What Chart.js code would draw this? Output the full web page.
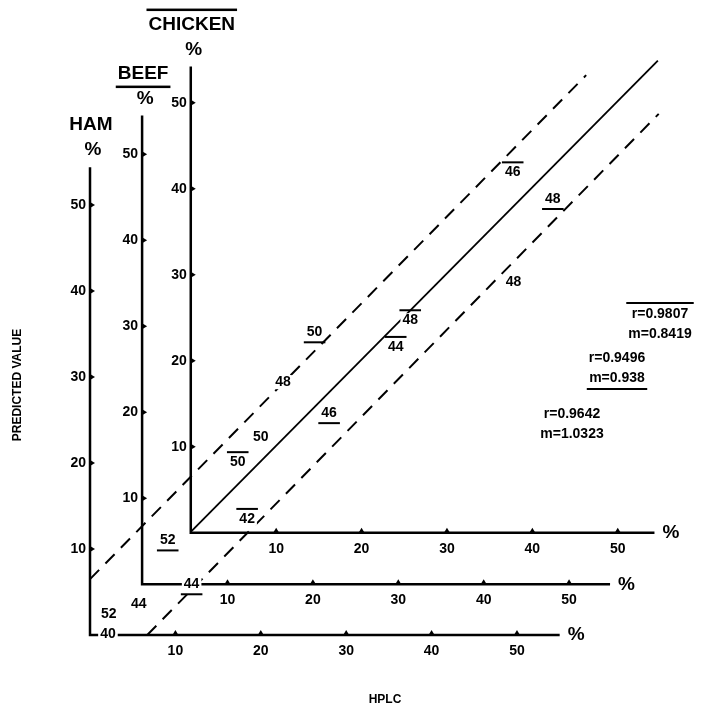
<!DOCTYPE html>
<html><head><meta charset="utf-8">
<script src="https://cdn.jsdelivr.net/npm/chart.js@4"></script>
<style>html,body{margin:0;padding:0;background:#fff;}</style>
</head><body>
<canvas id="c" width="701" height="707"></canvas>
<script>
// Series names and offsets of each oblique frame (in HAM units)
const seriesNames = ['HAM', 'BEEF', 'CHICKEN'];
const frameOffsetX = [0, 6.1, 11.8];
const frameOffsetY = [0, 5.9, 11.9];
const axisLenX = [55, 54.8, 54.3];
const axisLenY = [54.4, 54.5, 54.2];
const tickValues = [10, 20, 30, 40, 50];

// Point labels (sample numbers), positions in HAM frame units
const hamLabels = ['40', '52', '44', '50', '48', '48'];
const hamX = [2.1, 2.2, 5.7, 20.0, 22.6, 49.6];
const hamY = [0.1, 2.4, 3.6, 23.0, 29.4, 41.0];
const beefLabels = ['52', '44', '50', '46', '48'];
const beefX = [9.1, 11.9, 26.3, 28.0, 54.2];
const beefY = [11.0, 5.9, 35.2, 25.8, 50.7];
const chickenLabels = ['42', '50', '44', '48', '46'];
const chickenX = [18.4, 17.3, 35.8, 37.5, 49.5];
const chickenY = [13.5, 20.1, 33.5, 36.6, 53.8];

// Regression lines (HAM frame units)
const solidLineX = [11.8, 66.5];
const solidLineY = [12.0, 66.8];
const upperDashX = [0, 58.1];
const upperDashY = [6.5, 65.1];
const lowerDashX = [6.7, 66.6];
const lowerDashY = [0, 60.6];

const statsText = [['r=0.9642', 'm=1.0323'], ['r=0.9496', 'm=0.938'], ['r=0.9807', 'm=0.8419']];

const FONT = 'bold 14px "Liberation Sans", Arial, sans-serif';

function pts(xs, ys) { return xs.map((x, i) => ({x, y: ys[i]})); }

const datasets = [];
for (let s = 0; s < 3; s++) {
  const ox = frameOffsetX[s], oy = frameOffsetY[s];
  datasets.push({
    type: 'line', label: seriesNames[s] + ' axes',
    data: [{x: ox, y: oy + axisLenY[s]}, {x: ox, y: oy}, {x: ox + axisLenX[s], y: oy}],
    borderColor: '#000', borderWidth: 2.5, pointRadius: 0, tension: 0
  });
}
datasets.push({type: 'line', label: 'solid', data: pts(solidLineX, solidLineY), borderColor: '#000', borderWidth: 1.8, pointRadius: 0});
datasets.push({type: 'line', label: 'upper', data: pts(upperDashX, upperDashY), borderColor: '#000', borderWidth: 2, borderDash: [13, 9], pointRadius: 0});
datasets.push({type: 'line', label: 'lower', data: pts(lowerDashX, lowerDashY), borderColor: '#000', borderWidth: 2, borderDash: [13, 9], pointRadius: 0});
const labelSets = [
  {labels: hamLabels, deco: 0},
  {labels: beefLabels, deco: 1},
  {labels: chickenLabels, deco: -1}
];
datasets.push({type: 'scatter', label: 'HAM pts', data: pts(hamX, hamY), pointRadius: 0});
datasets.push({type: 'scatter', label: 'BEEF pts', data: pts(beefX, beefY), pointRadius: 0});
datasets.push({type: 'scatter', label: 'CHICKEN pts', data: pts(chickenX, chickenY), pointRadius: 0});

function decoText(ctx, text, x, y, deco, bg) {
  ctx.textAlign = 'center';
  const tw = ctx.measureText(text).width;
  if (bg) { ctx.fillStyle = '#fff'; ctx.fillRect(x - tw / 2 - 2, y - 7, tw + 4, 14); ctx.fillStyle = '#000'; }
  ctx.fillText(text, x, y);
  if (!deco) return;
  const w = tw + 6;
  const ly = deco < 0 ? y - 10 : y + 10;
  ctx.fillRect(x - w / 2, ly - 1, w, 2);
}

const drawPlugin = {
  id: 'drawPlugin',
  afterDatasetsDraw(chart) {
    const ctx = chart.ctx, xs = chart.scales.x, ys = chart.scales.y;
    ctx.save();
    ctx.fillStyle = '#000';
    ctx.font = FONT;
    ctx.textBaseline = 'middle';
    for (let s = 0; s < 3; s++) {
      const ox = frameOffsetX[s], oy = frameOffsetY[s];
      for (const t of tickValues) {
        const px = xs.getPixelForValue(ox + t), py = ys.getPixelForValue(oy);
        ctx.beginPath(); ctx.moveTo(px - 3, py); ctx.lineTo(px, py - 5); ctx.lineTo(px + 3, py); ctx.fill();
        ctx.textAlign = 'center'; ctx.fillText(String(t), px, py + 16);
        const qx = xs.getPixelForValue(ox), qy = ys.getPixelForValue(oy + t);
        ctx.beginPath(); ctx.moveTo(qx, qy - 3); ctx.lineTo(qx + 5, qy); ctx.lineTo(qx, qy + 3); ctx.fill();
        ctx.textAlign = 'right'; ctx.fillText(String(t), qx - 4, qy);
      }
      const ex = xs.getPixelForValue(ox + axisLenX[s]), ey = ys.getPixelForValue(oy);
      ctx.font = 'bold 19px "Liberation Sans", Arial, sans-serif';
      ctx.textAlign = 'left'; ctx.fillText('%', ex + 8, ey);
      const tx = xs.getPixelForValue(ox), ty = ys.getPixelForValue(oy + axisLenY[s]);
      ctx.textAlign = 'center';
      ctx.fillText('%', tx + 3, ty - 17);
      ctx.font = 'bold 19px "Liberation Sans", Arial, sans-serif';
      const title = seriesNames[s];
      ctx.fillText(title, tx + (s === 0 ? 1 : 1), ty - 42);
      const w = ctx.measureText(title).width + 4;
      if (s === 1) ctx.fillRect(tx + 1 - w / 2, ty - 42 + 12, w, 2.5);
      if (s === 2) ctx.fillRect(tx + 1 - w / 2, ty - 42 - 16, w, 2.5);
      ctx.font = FONT;
    }
    for (let s = 0; s < 3; s++) {
      const meta = chart.getDatasetMeta(datasets.length - 3 + s);
      meta.data.forEach((el, i) => decoText(ctx, labelSets[s].labels[i], el.x, el.y, labelSets[s].deco, true));
    }
    const statPos = [[572, 414, 0], [617, 358, 1], [660, 314, -1]];
    for (let s = 0; s < 3; s++) {
      const [x, y, d] = statPos[s];
      ctx.textAlign = 'center';
      ctx.fillText(statsText[s][0], x, y);
      ctx.fillText(statsText[s][1], x, y + 20);
      const w = Math.max(ctx.measureText(statsText[s][0]).width, ctx.measureText(statsText[s][1]).width) + 4;
      if (d < 0) ctx.fillRect(x - w / 2, y - 12, w, 2);
      if (d > 0) ctx.fillRect(x - w / 2, y + 30, w, 2);
    }
    ctx.font = 'bold 12px "Liberation Sans", Arial, sans-serif';
    ctx.textAlign = 'center';
    ctx.fillText('HPLC', 385, 700);
    ctx.translate(18, 385); ctx.rotate(-Math.PI / 2);
    ctx.fillText('PREDICTED VALUE', 0, 0);
    ctx.restore();
  }
};

new Chart(document.getElementById('c'), {
  type: 'scatter',
  data: {datasets},
  options: {
    responsive: false, animation: false, devicePixelRatio: 1,
    layout: {padding: 0},
    plugins: {legend: {display: false}, tooltip: {enabled: false}},
    scales: {
      x: {type: 'linear', display: false, min: -10.54, max: 71.55},
      y: {type: 'linear', display: false, min: -8.37, max: 73.84}
    }
  },
  plugins: [drawPlugin]
});
</script>
</body></html>
